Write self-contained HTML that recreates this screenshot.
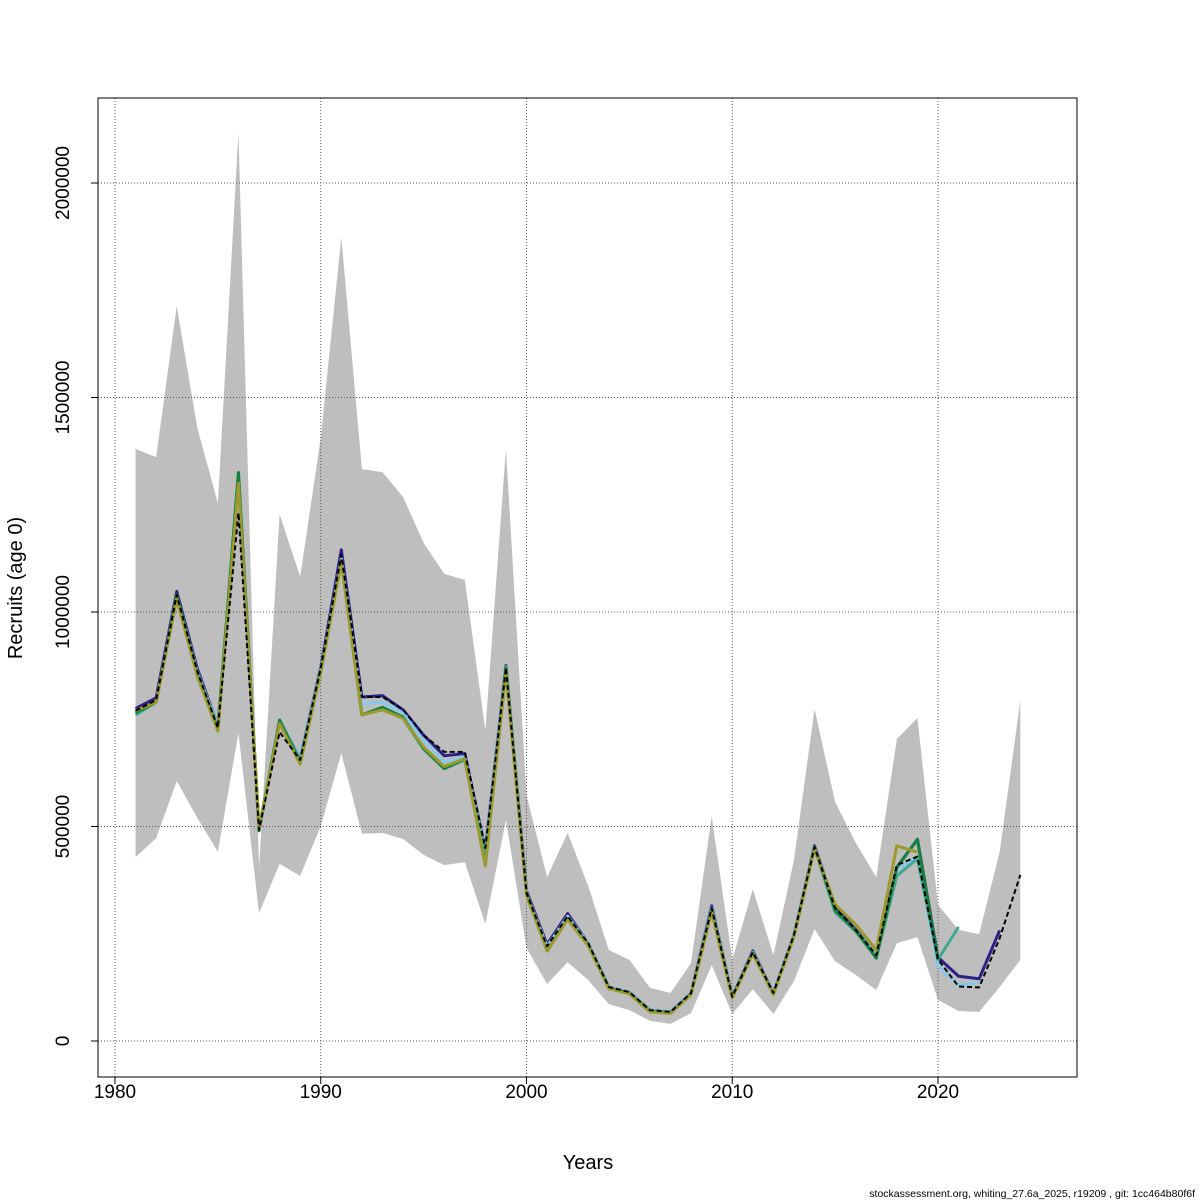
<!DOCTYPE html>
<html><head><meta charset="utf-8"><style>
html,body{margin:0;padding:0;background:#fff;}
svg{display:block;font-family:"Liberation Sans",Arial,sans-serif;}
</style></head><body>
<svg id="chart" width="1200" height="1200" viewBox="0 0 1200 1200"></svg>
<script>
const years=[];for(let y=1981;y<=2024;y++)years.push(y);
// values in thousands
const upperBand=[1380,1361,1713,1429,1254,2117,403,1228,1082,1406,1874,1333,1326,1268,1161,1089,1075,725,1380,573,382,485,361,212,189,124,112,182,524,189,354,200,422,774,557,462,382,704,753,317,259,249,441,793];
const lowerBand=[429,473,606,520,441,718,298,413,385,501,671,483,485,471,434,410,417,273,515,217,133,184,142,86,72,47,40,65,177,63,121,63,140,261,186,154,119,228,242,96,70,68,126,189];
const mainSeries=[770,795,1040,862,730,1231,492,720,655,869,1133,802,802,772,713,674,674,450,870,345,221,291,228,126,114,72,68,112,310,103,207,112,247,452,310,259,200,410,430,190,127,125,240,387];
const peelPurple=[775,800,1048,868,735,1300,495,745,660,870,1145,802,805,772,713,665,670,445,875,350,225,297,228,126,114,72,68,112,315,103,210,112,247,455,312,260,200,405,470,195,151,145,258];
const peelLightBlue=[765,790,1040,860,735,1300,495,745,660,865,1125,785,790,765,700,650,662,440,872,345,220,291,228,126,114,72,68,112,310,103,207,112,247,452,305,258,200,400,430,175,130,137];
const peelTeal=[760,790,1035,855,728,1325,495,748,655,865,1120,760,775,752,680,635,655,430,870,345,210,285,225,124,112,70,66,110,305,103,205,110,245,450,300,255,195,385,425,190,266];
const peelGreen=[765,790,1040,855,728,1325,490,748,650,860,1120,760,778,755,682,635,658,410,870,345,210,285,225,124,112,70,66,110,305,103,205,110,245,452,305,258,193,405,470,190];
const peelOlive=[770,790,1030,850,722,1300,495,740,645,860,1115,760,772,752,685,640,658,408,860,340,210,283,222,122,110,68,64,108,300,100,203,108,243,448,318,272,212,455,440];
const xTicks=[1980,1990,2000,2010,2020];
const yTicks=[0,500000,1000000,1500000,2000000];

const svg=document.getElementById('chart');
const NS='http://www.w3.org/2000/svg';
const L=98,R=1077,T=98,B=1077;
const xs=yr=>115+(yr-1980)*20.575;
const ys=v=>1041-v*1000/500000*214.5; // v in thousands
function mk(tag,attrs,parent){const e=document.createElementNS(NS,tag);for(const k in attrs)e.setAttribute(k,attrs[k]);(parent||svg).appendChild(e);return e;}

let pts=years.map((y,i)=>xs(y)+','+ys(upperBand[i]));
for(let i=years.length-1;i>=0;i--)pts.push(xs(years[i])+','+ys(lowerBand[i]));
const band=mk('polygon',{points:pts.join(' '),fill:'#bebebe',stroke:'none'});



const grid=mk('g',{stroke:'#555',"stroke-width":1,"stroke-dasharray":"1,2"});


xTicks.forEach(t=>mk('line',{x1:xs(t),x2:xs(t),y1:T,y2:B},grid));
yTicks.forEach(t=>mk('line',{x1:L,x2:R,y1:ys(t/1000),y2:ys(t/1000)},grid));

function line(arr,color,name,w,dash){
  const p=arr.map((v,i)=>xs(years[i])+','+ys(v)).join(' ');
  const e=mk('polyline',{points:p,fill:'none',stroke:color,"stroke-width":w,"stroke-linejoin":"round"});
  if(dash)e.setAttribute('stroke-dasharray',dash);
  
  
}
line(peelPurple,'#2e1f86','retro-line-2023',3);
line(peelLightBlue,'#86c9ea','retro-line-2022',3);
line(peelTeal,'#3fa98f','retro-line-2021',3);
line(peelGreen,'#15803f','retro-line-2020',3);
line(peelOlive,'#9c9a2c','retro-line-2019',3);
line(mainSeries,'#000','main-estimate-line',2,'5,3');

const box=mk('rect',{x:L,y:T,width:R-L,height:B-T,fill:'none',stroke:'#000',"stroke-width":1});



xTicks.forEach(t=>{
  mk('line',{x1:xs(t),x2:xs(t),y1:B,y2:B+7,stroke:'#000'});
  const tx=mk('text',{x:xs(t),y:1098,"font-size":19,"text-anchor":"middle"});tx.textContent=t;
  
  
});
yTicks.forEach(t=>{
  const y=ys(t/1000);
  mk('line',{x1:L,x2:L-7,y1:y,y2:y,stroke:'#000'});
  const tx=mk('text',{x:69,y:y,"font-size":19,"text-anchor":"middle",transform:`rotate(-90 69 ${y})`});tx.textContent=t;
  
  
});
const xt=mk('text',{x:588,y:1169,"font-size":20,"text-anchor":"middle"});xt.textContent='Years';


const yt=mk('text',{x:22,y:588,"font-size":20,"text-anchor":"middle",transform:'rotate(-90 22 588)'});yt.textContent='Recruits (age 0)';


const ft=mk('text',{x:1195,y:1197,"font-size":10.5,"text-anchor":"end"});ft.textContent='stockassessment.org, whiting_27.6a_2025, r19209 , git: 1cc464b80f6f';


</script>
</body></html>
